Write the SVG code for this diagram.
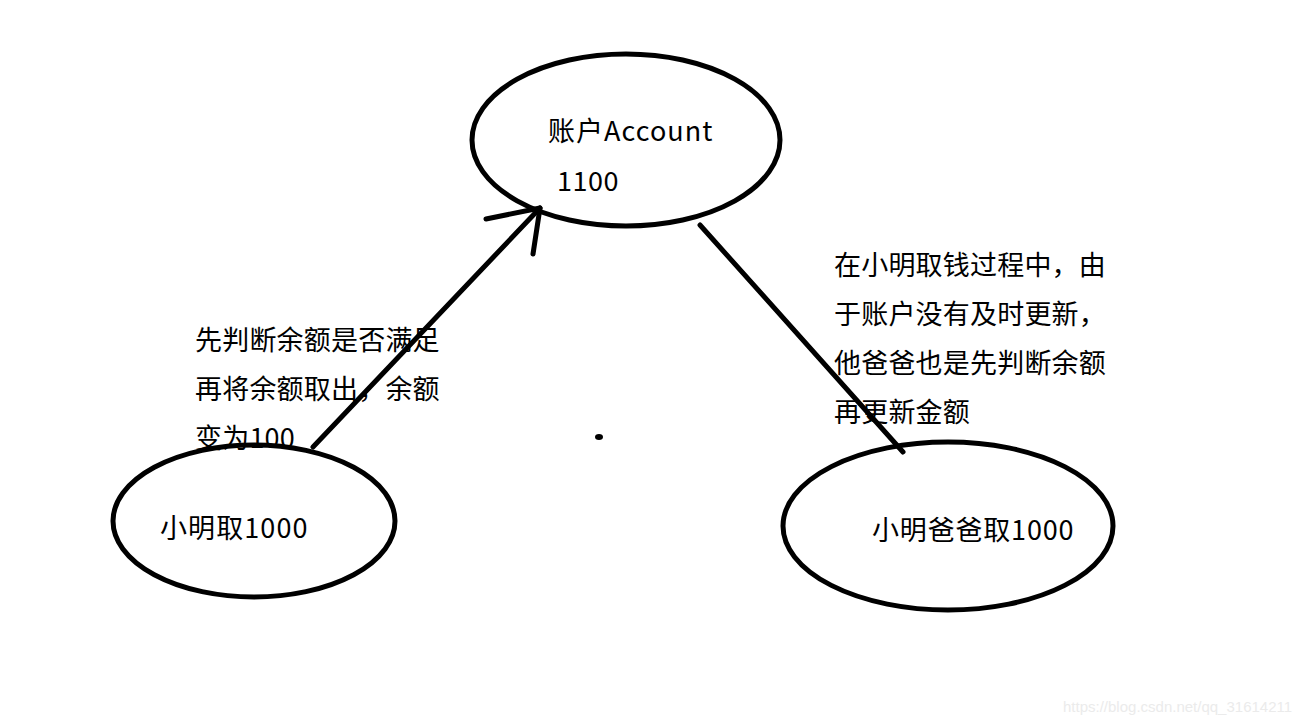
<svg xmlns="http://www.w3.org/2000/svg" width="1315" height="725" viewBox="0 0 1315 725">
<style>
.node{fill:none;stroke:#000;stroke-width:5}
.line{fill:none;stroke:#000;stroke-width:5;stroke-linecap:round;stroke-linejoin:round}
.t{font-family:"Noto Sans CJK SC","Noto Sans",sans-serif;fill:#000}
.lbl{font-size:27px;letter-spacing:0.5px}
.note{font-size:27px;letter-spacing:0.2px}
.wm{font-family:"Liberation Sans",sans-serif;font-size:15px;fill:#ebebeb}
</style>
<rect width="1315" height="725" fill="#fff"/>
<g id="connectors">
<path class="line" d="M313,447 L540,208"/>
<path class="line" d="M486,219 L540,208 L533,254"/>
<path class="line" d="M700,225 L903,452"/>
</g>
<g id="account">
<ellipse class="node" cx="626" cy="140" rx="154" ry="86"/>
<text class="t lbl" x="548" y="141" textLength="165">账户Account</text>
<text class="t lbl" x="557" y="191">1100</text>
</g>
<g id="xiaoming">
<ellipse class="node" cx="254" cy="521" rx="141" ry="76"/>
<text class="t lbl" x="160" y="538" textLength="148">小明取1000</text>
</g>
<g id="father">
<ellipse class="node" cx="948" cy="526" rx="165" ry="84"/>
<text class="t lbl" x="872" y="540" textLength="202">小明爸爸取1000</text>
</g>
<g id="note-left">
<text class="t note" x="195" y="350">先判断余额是否满足</text>
<text class="t note" x="195" y="399">再将余额取出，余额</text>
<text class="t note" x="195" y="448">变为100</text>
</g>
<g id="note-right">
<text class="t note" x="834" y="275">在小明取钱过程中，由</text>
<text class="t note" x="834" y="324">于账户没有及时更新，</text>
<text class="t note" x="834" y="373">他爸爸也是先判断余额</text>
<text class="t note" x="834" y="422">再更新金额</text>
</g>
<ellipse cx="599" cy="437" rx="4" ry="3" fill="#000"/>
<text class="wm" x="1063" y="712">https://blog.csdn.net/qq_31614211</text>
</svg>
